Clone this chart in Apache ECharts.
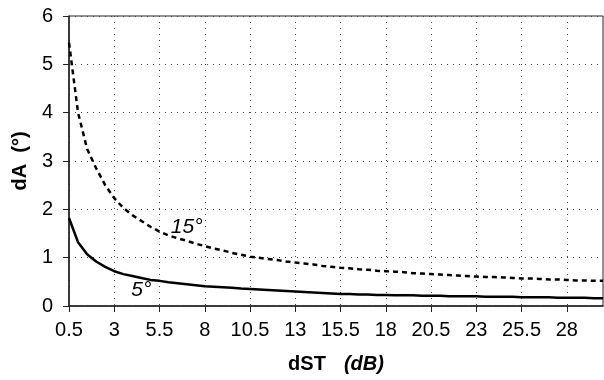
<!DOCTYPE html>
<html>
<head>
<meta charset="utf-8">
<script src="https://cdn.jsdelivr.net/npm/echarts@6/dist/echarts.min.js"></script>
<style>
  html, body { margin: 0; padding: 0; background: #fff; }
  #chart { width: 604px; height: 380px; }
</style>
</head>
<body>
<div id="chart"></div>
<script>
// dST (dB), one category every 0.5 dB
const dst = [
  '0.5', '1', '1.5', '2', '2.5', '3', '3.5', '4', '4.5', '5',
  '5.5', '6', '6.5', '7', '7.5', '8', '8.5', '9', '9.5', '10',
  '10.5', '11', '11.5', '12', '12.5', '13', '13.5', '14', '14.5', '15',
  '15.5', '16', '16.5', '17', '17.5', '18', '18.5', '19', '19.5', '20',
  '20.5', '21', '21.5', '22', '22.5', '23', '23.5', '24', '24.5', '25',
  '25.5', '26', '26.5', '27', '27.5', '28', '28.5', '29', '29.5', '30'
]

// dA (deg) for the 5 deg case (solid)
const dA5 = [
  1.82, 1.32, 1.07, 0.92, 0.81, 0.72, 0.66, 0.62, 0.58, 0.54,
  0.52, 0.49, 0.47, 0.45, 0.43, 0.41, 0.40, 0.39, 0.38, 0.36,
  0.35, 0.34, 0.33, 0.32, 0.31, 0.30, 0.29, 0.28, 0.27, 0.26,
  0.25, 0.25, 0.24, 0.24, 0.23, 0.23, 0.22, 0.22, 0.22, 0.21,
  0.21, 0.21, 0.20, 0.20, 0.20, 0.20, 0.19, 0.19, 0.19, 0.19,
  0.18, 0.18, 0.18, 0.18, 0.17, 0.17, 0.17, 0.17, 0.16, 0.16
]

// dA (deg) for the 15 deg case (dashed)
const dA15 = [
  5.45, 4.00, 3.25, 2.85, 2.50, 2.23, 2.03, 1.88, 1.76, 1.64,
  1.54, 1.46, 1.40, 1.35, 1.29, 1.24, 1.19, 1.15, 1.10, 1.06,
  1.02, 1.00, 0.97, 0.95, 0.92, 0.90, 0.88, 0.86, 0.83, 0.81,
  0.79, 0.78, 0.76, 0.75, 0.73, 0.72, 0.71, 0.70, 0.68, 0.67,
  0.66, 0.65, 0.64, 0.63, 0.62, 0.61, 0.60, 0.60, 0.59, 0.58,
  0.57, 0.57, 0.56, 0.55, 0.55, 0.54, 0.53, 0.53, 0.52, 0.52
]

const yTicks = [0, 1, 2, 3, 4, 5, 6]

const font = 'Arial, "Liberation Sans", sans-serif'

const curveLabel = (text, x, y) => ({
  symbol: 'rect',
  symbolSize: 0,
  data: [{
    coord: [x, y],
    label: {
      show: true,
      position: 'inside',
      formatter: text,
      fontFamily: font,
      fontSize: 21,
      fontStyle: 'italic',
      color: '#000'
    }
  }]
})

const chart = echarts.init(document.getElementById('chart'), null, { renderer: 'canvas' })

chart.setOption({
  backgroundColor: '#fff',
  animation: false,
  grid: {
    left: 69, right: 1, top: 16, bottom: 74,
    containLabel: false,
    outerBoundsMode: 'none',
    show: true,
    borderColor: '#222',
    borderWidth: 1
  },
  xAxis: {
    type: 'category',
    data: dst,
    boundaryGap: false,
    name: '{b|dST}{g|}{i|(dB)}',
    nameLocation: 'middle',
    nameGap: 48,
    nameTextStyle: {
      rich: {
        b: { fontFamily: font, fontSize: 20, fontWeight: 'bold', color: '#000' },
        g: { width: 18 },
        i: { fontFamily: font, fontSize: 20, fontWeight: 'bold', fontStyle: 'italic', color: '#000' }
      }
    },
    axisLine: { lineStyle: { color: '#222', width: 1.5 } },
    axisTick: { interval: 4, length: 6, lineStyle: { color: '#222' } },
    axisLabel: { interval: 4, fontFamily: font, fontSize: 20, color: '#000', margin: 14 },
    splitLine: { show: true, interval: 4, lineStyle: { color: '#444', type: [1, 5], width: 1 } }
  },
  yAxis: {
    type: 'value',
    min: yTicks[0],
    max: yTicks[yTicks.length - 1],
    interval: 1,
    name: 'dA  (°)',
    nameLocation: 'middle',
    nameGap: 37,
    nameTextStyle: { fontFamily: font, fontSize: 20, fontWeight: 'bold', color: '#000' },
    axisLine: { show: true, lineStyle: { color: '#222', width: 1.5 } },
    axisTick: { show: true, length: 6, lineStyle: { color: '#222' } },
    axisLabel: { fontFamily: font, fontSize: 20, color: '#000', margin: 16 },
    splitLine: { show: true, lineStyle: { color: '#444', type: [1, 5], width: 1 } }
  },
  series: [
    {
      name: '5°',
      type: 'line',
      data: dA5,
      symbol: 'none',
      lineStyle: { color: '#000', width: 2.5 },
      markPoint: curveLabel('5°', '4.5', 0.33)
    },
    {
      name: '15°',
      type: 'line',
      data: dA15,
      symbol: 'none',
      lineStyle: { color: '#000', width: 2.5, type: [5, 4] },
      markPoint: curveLabel('15°', '7', 1.64)
    }
  ]
})
</script>
</body>
</html>
